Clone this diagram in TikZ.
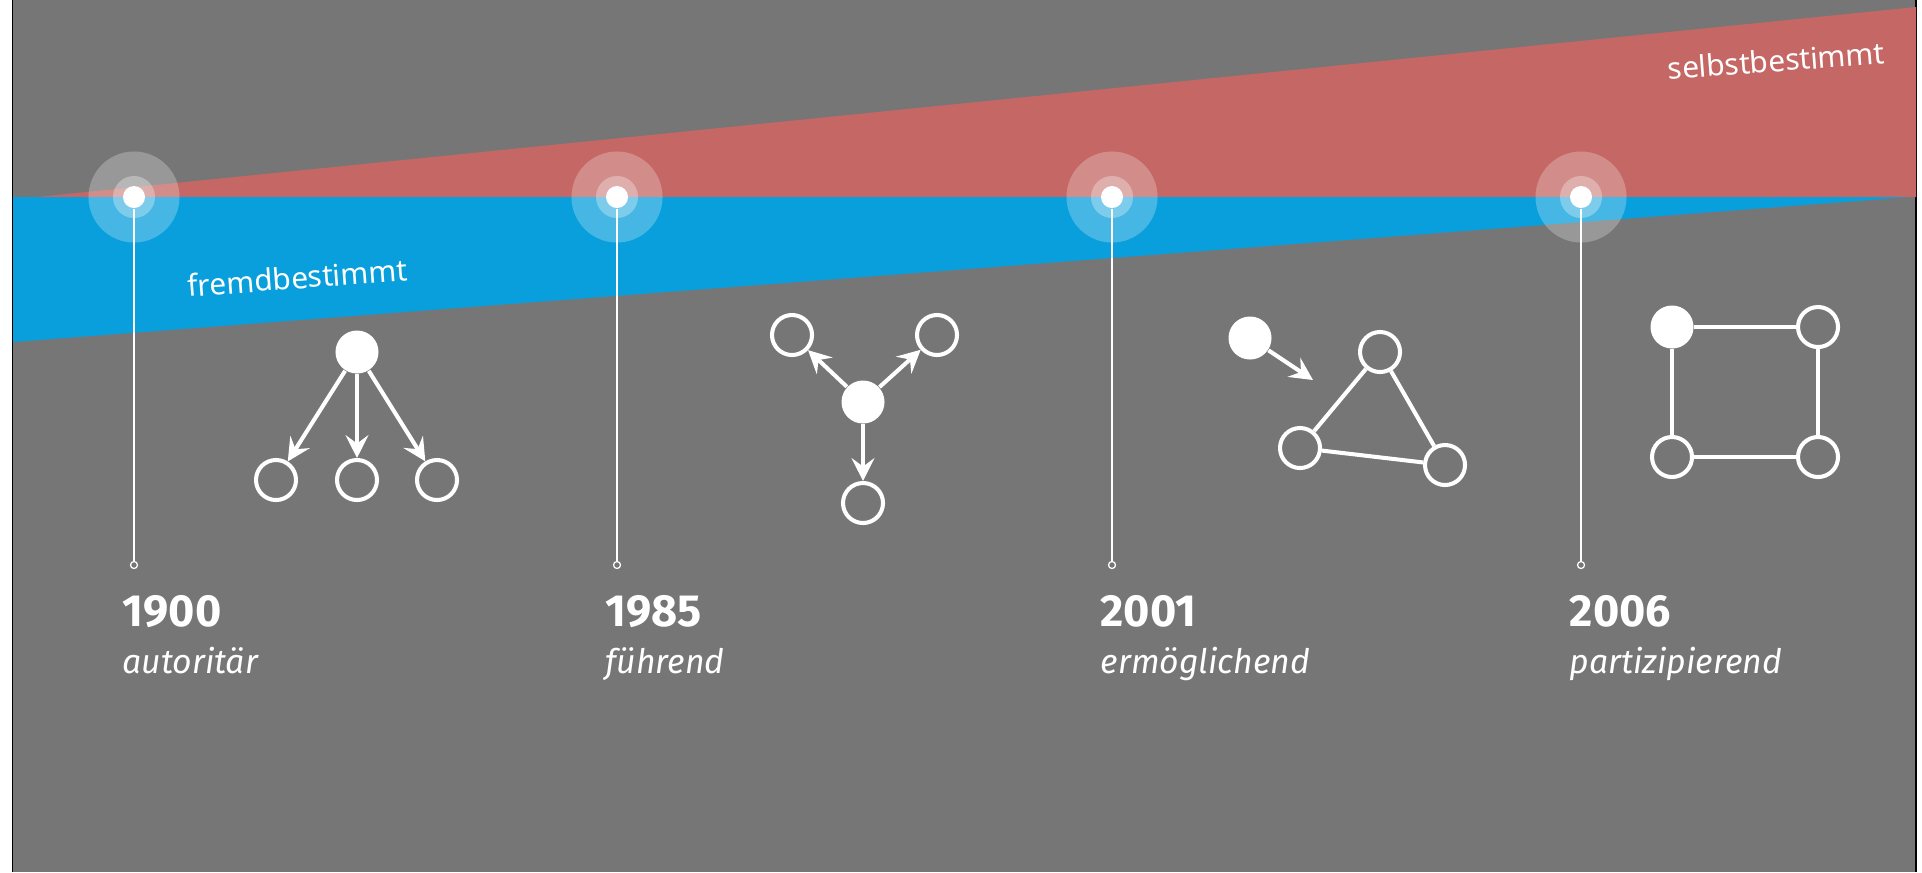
\documentclass[tikz,border=0pt]{standalone}
\usepackage{fontspec}
\setmainfont{Fira Sans}
\newfontfamily\bandfont{Noto Sans}
\usetikzlibrary{arrows.meta}
\definecolor{bggrey}{RGB}{118,118,118}
\definecolor{bandblue}{RGB}{9,159,220}
\definecolor{bandred}{RGB}{196,103,101}

\begin{document}
\begin{tikzpicture}[x=0.01cm, y=-0.01cm]
\tikzstyle{hub}=[circle, fill=white, inner sep=0, minimum size=0.43cm]
\tikzstyle{member}=[circle, draw=white, line width=1.15pt, inner sep=0, minimum size=0.40cm]
\tikzstyle{link}=[draw=white, line width=1.15pt]
\tikzstyle{push}=[link, -{Stealth[length=6.5pt, width=6.5pt, inset=2.4pt]}]
\tikzstyle{dot}=[circle, fill=white, inner sep=0, minimum size=0.22cm]
\tikzstyle{foot}=[circle, draw=white, line width=0.35pt, inner sep=0, minimum size=0.07cm]
\tikzstyle{stem}=[draw=white, line width=0.6pt]
\tikzstyle{band}=[anchor=base west, text=white, inner sep=0, font=\bandfont\fontsize{8.5}{10}\selectfont]
\tikzstyle{year}=[anchor=base west, text=white, inner sep=0, font=\bfseries\fontsize{12.8}{15}\selectfont]
\tikzstyle{mode}=[anchor=base west, text=white, inner sep=0, font=\itshape\fontsize{9.6}{11}\selectfont]

\useasboundingbox (0,0) rectangle (1922,872);
\fill[white] (0,0) rectangle (1922,872);
\fill[bggrey] (13,0) rectangle (1916,872);
\draw[black, line width=0.5pt] (12.5,0) -- (12.5,872) (1916,0) -- (1916,872);

% the two wedges
\fill[bandred] (37,197) -- (1916,7) -- (1916,197) -- cycle;
\fill[bandblue] (13,197) -- (1910,197) -- (13,342) -- cycle;
\node[band, rotate=4.3] (fremd) at (188,297) {fremdbestimmt};
\node[band, rotate=4.4] (selbst) at (1668,80) {selbstbestimmt};

% timeline markers
\foreach \i/\x/\yr/\mode in {1/134/1900/autoritär, 2/617/1985/führend,
  3/1112/2001/ermöglichend, 4/1581/2006/partizipierend} {
  \fill[white, opacity=0.25] (\x,197) circle[radius=0.455cm];
  \fill[white, opacity=0.3] (\x,197) circle[radius=0.21cm];
  \node[dot] (dot\i) at (\x,197) {};
  \node[foot] (foot\i) at (\x,565) {};
  \draw[stem] (dot\i) -- (foot\i);
  \node[year] (year\i) at (\x-12,626) {\yr};
  \node[mode] (mode\i) at (\x-12,673) {\mode};
}

% 1900: one on top
\node[hub] (a0) at (357,352) {};
\node[member] (a1) at (276,480) {};
\node[member] (a2) at (357,480) {};
\node[member] (a3) at (437,480) {};
\draw[push] (a0) -- (a1);
\draw[push] (a0) -- (a2);
\draw[push] (a0) -- (a3);

% 1985: one in the middle
\node[hub] (b0) at (863,402) {};
\node[member] (b1) at (792,335) {};
\node[member] (b2) at (937,335) {};
\node[member] (b3) at (863,503) {};
\draw[push] (b0) -- (b1);
\draw[push] (b0) -- (b2);
\draw[push] (b0) -- (b3);

% 2001: one outside the triangle
\node[hub] (c0) at (1250,338) {};
\coordinate (c4) at (1313,380);
\node[member] (c1) at (1380,352) {};
\node[member] (c2) at (1300,448) {};
\node[member] (c3) at (1445,465) {};
\draw[push] (c0) -- (c4);
\draw[link] (c1) -- (c2) -- (c3) -- (c1);

% 2006: ring
\node[hub] (d0) at (1672,327) {};
\node[member] (d1) at (1818,327) {};
\node[member] (d2) at (1818,457) {};
\node[member] (d3) at (1672,457) {};
\draw[link] (d0) -- (d1) -- (d2) -- (d3) -- (d0);
\end{tikzpicture}
\end{document}
